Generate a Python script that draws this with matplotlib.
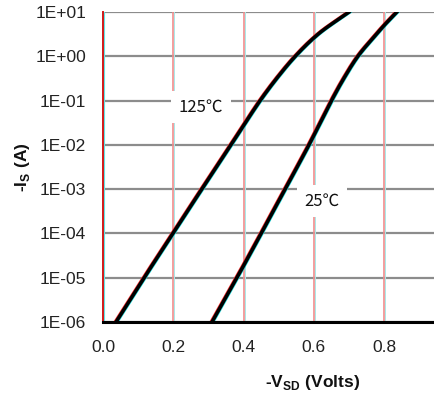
import numpy as np
import matplotlib
matplotlib.use("Agg")
import matplotlib.pyplot as plt
import matplotlib.transforms as mtransforms

plt.rcParams['font.family'] = ['Liberation Sans', 'DejaVu Sans']
plt.rcParams['mathtext.fontset'] = 'custom'
plt.rcParams['mathtext.rm'] = 'Liberation Sans'
plt.rcParams['mathtext.bf'] = 'Liberation Sans:bold'

# Data
v_125 = [0.037, 0.117, 0.199, 0.281, 0.364, 0.405, 0.447, 0.494, 0.547, 0.612, 0.700]
i_125 = [1e-6, 1e-5, 1e-4, 1e-3, 1e-2, 10**-1.5, 1e-1, 10**-0.5, 1e0, 10**0.5, 1e1]
v_25 = [0.310, 0.381, 0.450, 0.518, 0.586, 0.650, 0.685, 0.725, 0.778, 0.800, 0.836]
i_25 = [1e-6, 1e-5, 1e-4, 1e-3, 1e-2, 1e-1, 10**-0.5, 1e0, 10**0.5, 10**0.7, 1e1]

xticks = [0.0, 0.2, 0.4, 0.6, 0.8]
xtick_labels = ['0.0', '0.2', '0.4', '0.6', '0.8']
yticks = [1e-6, 1e-5, 1e-4, 1e-3, 1e-2, 1e-1, 1e0, 1e1]
ytick_labels = ['1E-06', '1E-05', '1E-04', '1E-03', '1E-02', '1E-01', '1E+00', '1E+01']


def pchip(xk, yk, xs):
    """Monotone cubic (Fritsch-Carlson) used only to draw a smooth line through read points."""
    xk = np.asarray(xk, float); yk = np.asarray(yk, float)
    h = np.diff(xk); d = np.diff(yk) / h
    m = np.zeros_like(yk)
    for k in range(1, len(xk) - 1):
        if d[k-1] * d[k] > 0:
            w1 = 2*h[k] + h[k-1]; w2 = h[k] + 2*h[k-1]
            m[k] = (w1 + w2) / (w1/d[k-1] + w2/d[k])
    m[0] = d[0]; m[-1] = d[-1]
    idx = np.clip(np.searchsorted(xk, xs) - 1, 0, len(h) - 1)
    t = (xs - xk[idx]) / h[idx]
    h00 = 2*t**3 - 3*t**2 + 1; h10 = t**3 - 2*t**2 + t
    h01 = -2*t**3 + 3*t**2; h11 = t**3 - t**2
    return h00*yk[idx] + h10*h[idx]*m[idx] + h01*yk[idx+1] + h11*h[idx]*m[idx+1]


fig = plt.figure(figsize=(4.35, 3.96), dpi=100)
ax = fig.add_axes([103/435, (396-322)/396, 1 - 103/435, 310/396])
ax.set_yscale('log')
ax.set_xlim(0, 0.9445)
ax.set_ylim(1e-6, 1e1)

def shifted(dx, dy=0):
    return ax.transData + mtransforms.ScaledTranslation(dx/100, dy/100, fig.dpi_scale_trans)

# horizontal grid lines
for yv in yticks:
    ax.axhline(yv, color='#8c8c8c', lw=1.6, zorder=1)
# vertical grid lines (pink + cyan fringe)
for xv in xticks[1:]:
    ax.plot([xv, xv], [1e-6, 1e1], color='#a8e8e8', lw=0.7, zorder=1.1,
            transform=shifted(1.0))
    ax.plot([xv, xv], [1e-6, 1e1], color='#f08c8c', lw=1.2, zorder=1.2)

# curves with colour fringes
for vv, ii in [(v_125, i_125), (v_25, i_25)]:
    lt = np.log10(ii)
    ts = np.linspace(lt[0], lt[-1], 400)
    xs = pchip(lt, vv, ts)
    ys = 10**ts
    ax.plot(xs, ys, color='#ff3030', lw=2.4, transform=shifted(-0.9), zorder=3)
    ax.plot(xs, ys, color='#20e0e0', lw=2.4, transform=shifted(0.9), zorder=3)
    ax.plot(xs, ys, color='black', lw=2.6, zorder=4)

# labels with white background
lab_kw = dict(fontsize=12, family=['Noto Sans CJK SC', 'DejaVu Sans'], ha='center', va='center',
              color='#111', zorder=5,
              bbox=dict(boxstyle='square,pad=0.45', fc='white', ec='none'))
ax.text(0.279, 0.07, '125℃', **lab_kw)
ax.text(0.623, 5.4e-4, '25℃', **lab_kw)

# spines
for s in ['top', 'right']:
    ax.spines[s].set_visible(False)
ax.spines['bottom'].set_color('black')
ax.spines['bottom'].set_linewidth(2.2)
ax.spines['bottom'].set_zorder(6)
ax.spines['left'].set_color('#d01818')
ax.spines['left'].set_linewidth(1.4)
ax.spines['left'].set_zorder(2.5)
ax.plot([0, 0], [1e-6, 1e1], color='#60e4e4', lw=0.8, transform=shifted(1.4), zorder=2,
        clip_on=False)

ax.set_xticks(xticks)
ax.set_xticklabels(xtick_labels)
ax.set_yticks(yticks)
ax.set_yticklabels(ytick_labels)
ax.minorticks_off()
ax.tick_params(axis='both', length=0, labelsize=12.5, labelcolor='#222')
ax.tick_params(axis='y', pad=12)
ax.tick_params(axis='x', pad=13)

ax.set_ylabel(r'-I$_\mathbf{S}$ (A)', fontsize=12.5, fontweight='bold', color='#111')
ax.yaxis.set_label_coords(-(103-22)/332, 0.5)
ax.set_xlabel(r'-V$_\mathbf{SD}$ (Volts)', fontsize=12.5, fontweight='bold', color='#111')
ax.xaxis.set_label_coords((313-103)/332, -(382-322)/310)
ax.xaxis.label.set_va('center')
ax.yaxis.label.set_va('center')

fig.savefig('out.png', dpi=100)
